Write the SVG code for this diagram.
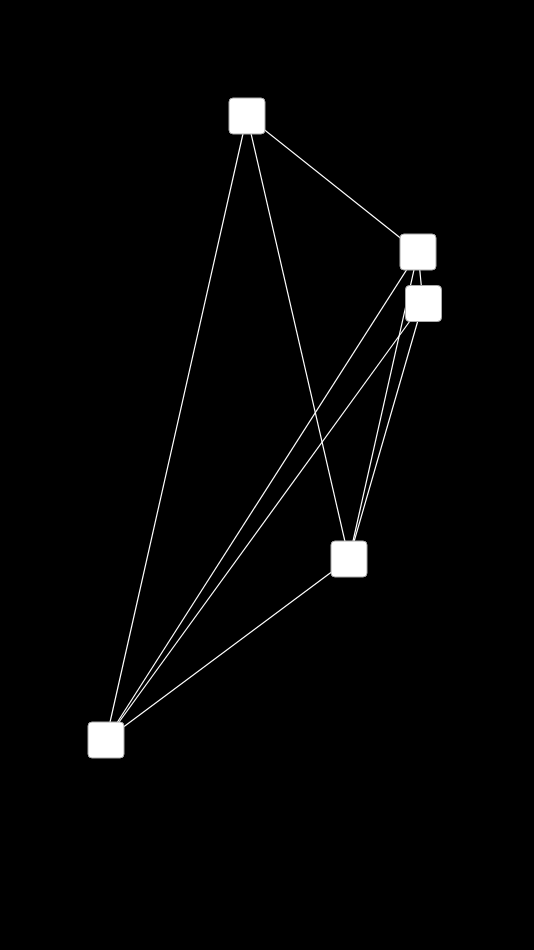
<svg xmlns="http://www.w3.org/2000/svg" width="534" height="950" viewBox="0 0 534 950">
<style>
.edge{stroke:#ffffff;stroke-width:1.2;fill:none}
.node{fill:#ffffff;stroke:#aaaaaa;stroke-width:1}
</style>
<rect x="0" y="0" width="534" height="950" fill="#000000"/>
<g id="connectors">
<line class="edge" x1="247" y1="116" x2="418" y2="252"/>
<line class="edge" x1="247" y1="116" x2="349" y2="559"/>
<line class="edge" x1="247" y1="116" x2="106" y2="740"/>
<line class="edge" x1="418" y1="252" x2="423" y2="303"/>
<line class="edge" x1="418" y1="252" x2="349" y2="559"/>
<line class="edge" x1="418" y1="252" x2="106" y2="740"/>
<line class="edge" x1="423" y1="303" x2="349" y2="559"/>
<line class="edge" x1="423" y1="303" x2="106" y2="740"/>
<line class="edge" x1="349" y1="559" x2="106" y2="740"/>
</g>
<g id="node-a"><rect class="node" x="229" y="98" width="36" height="36" rx="4"/></g>
<g id="node-b"><rect class="node" x="400" y="234" width="36" height="36" rx="4"/></g>
<g id="node-c"><rect class="node" x="405.5" y="285.5" width="36" height="36" rx="4"/></g>
<g id="node-d"><rect class="node" x="331" y="541" width="36" height="36" rx="4"/></g>
<g id="node-e"><rect class="node" x="88" y="722" width="36" height="36" rx="4"/></g>
</svg>
